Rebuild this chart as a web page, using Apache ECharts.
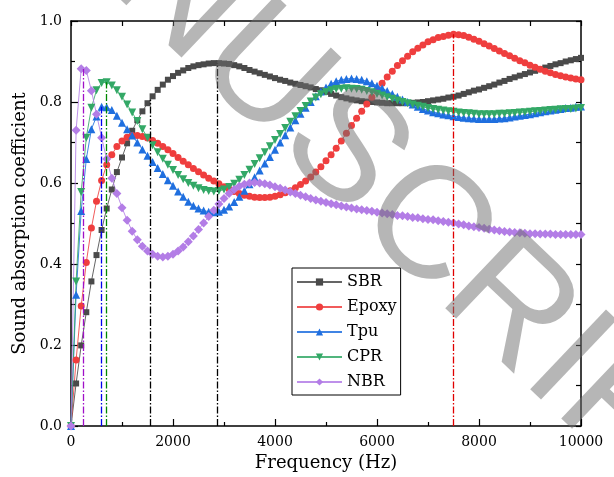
<!DOCTYPE html>
<html>
<head>
<meta charset="utf-8">
<script src="https://cdn.jsdelivr.net/npm/echarts@6/dist/echarts.min.js"></script>
<style>
  html, body { margin: 0; padding: 0; background: #fff; }
  #chart { width: 614px; height: 477px; }
</style>
</head>
<body>
<div id="chart"></div>
<script>
// Frequency grid (Hz)
const freqs = [
  0, 100, 200, 300, 400, 500, 600, 700, 800, 900, 1000,
  1100, 1200, 1300, 1400, 1500, 1600, 1700, 1800, 1900, 2000,
  2100, 2200, 2300, 2400, 2500, 2600, 2700, 2800, 2900, 3000,
  3100, 3200, 3300, 3400, 3500, 3600, 3700, 3800, 3900, 4000,
  4100, 4200, 4300, 4400, 4500, 4600, 4700, 4800, 4900, 5000,
  5100, 5200, 5300, 5400, 5500, 5600, 5700, 5800, 5900, 6000,
  6100, 6200, 6300, 6400, 6500, 6600, 6700, 6800, 6900, 7000,
  7100, 7200, 7300, 7400, 7500, 7600, 7700, 7800, 7900, 8000,
  8100, 8200, 8300, 8400, 8500, 8600, 8700, 8800, 8900, 9000,
  9100, 9200, 9300, 9400, 9500, 9600, 9700, 9800, 9900, 10000
];

// Sound absorption coefficient of each material
const sbr = [
  0, 0.105, 0.199, 0.281, 0.357, 0.422, 0.484, 0.537, 0.584, 0.627, 0.663,
  0.698, 0.729, 0.755, 0.777, 0.797, 0.814, 0.830, 0.843, 0.855, 0.864,
  0.872, 0.878, 0.884, 0.888, 0.891, 0.893, 0.895, 0.896, 0.896, 0.895,
  0.894, 0.891, 0.888, 0.884, 0.879, 0.875, 0.871, 0.867, 0.863, 0.859,
  0.855, 0.852, 0.848, 0.845, 0.842, 0.839, 0.836, 0.832, 0.829, 0.825,
  0.820, 0.816, 0.812, 0.809, 0.806, 0.804, 0.802, 0.801, 0.800, 0.799,
  0.798, 0.797, 0.797, 0.797, 0.797, 0.797, 0.798, 0.799, 0.800, 0.802,
  0.804, 0.806, 0.808, 0.811, 0.813, 0.816, 0.820, 0.824, 0.828, 0.831,
  0.835, 0.839, 0.843, 0.848, 0.852, 0.857, 0.861, 0.865, 0.869, 0.873,
  0.877, 0.881, 0.885, 0.889, 0.893, 0.896, 0.900, 0.903, 0.906, 0.909
];
const epoxy = [
  0, 0.163, 0.296, 0.404, 0.489, 0.555, 0.606, 0.645, 0.670, 0.690, 0.704,
  0.713, 0.717, 0.717, 0.715, 0.711, 0.705, 0.698, 0.690, 0.682, 0.673,
  0.663, 0.654, 0.645, 0.636, 0.628, 0.620, 0.612, 0.605, 0.598, 0.591,
  0.585, 0.579, 0.574, 0.570, 0.567, 0.565, 0.564, 0.564, 0.565, 0.567,
  0.571, 0.576, 0.581, 0.588, 0.596, 0.605, 0.615, 0.627, 0.640, 0.655,
  0.670, 0.686, 0.704, 0.723, 0.742, 0.760, 0.777, 0.795, 0.812, 0.829,
  0.846, 0.862, 0.876, 0.890, 0.902, 0.913, 0.924, 0.933, 0.941, 0.949,
  0.954, 0.959, 0.962, 0.965, 0.967, 0.966, 0.964, 0.960, 0.955, 0.950,
  0.944, 0.938, 0.932, 0.926, 0.920, 0.914, 0.908, 0.902, 0.897, 0.891,
  0.886, 0.881, 0.876, 0.872, 0.868, 0.865, 0.862, 0.859, 0.857, 0.855
];
const tpu = [
  0, 0.324, 0.531, 0.659, 0.733, 0.764, 0.788, 0.787, 0.780, 0.766, 0.749,
  0.733, 0.717, 0.700, 0.683, 0.667, 0.652, 0.637, 0.622, 0.607, 0.593,
  0.579, 0.566, 0.554, 0.544, 0.537, 0.532, 0.529, 0.528, 0.529, 0.534,
  0.542, 0.553, 0.566, 0.581, 0.597, 0.614, 0.631, 0.648, 0.664, 0.682,
  0.700, 0.718, 0.737, 0.755, 0.771, 0.786, 0.800, 0.814, 0.826, 0.836,
  0.845, 0.851, 0.855, 0.857, 0.858, 0.857, 0.855, 0.851, 0.846, 0.840,
  0.834, 0.827, 0.820, 0.813, 0.806, 0.800, 0.794, 0.788, 0.783, 0.779,
  0.775, 0.772, 0.769, 0.767, 0.765, 0.763, 0.761, 0.760, 0.759, 0.758,
  0.758, 0.758, 0.758, 0.759, 0.760, 0.762, 0.764, 0.766, 0.768, 0.770,
  0.772, 0.775, 0.777, 0.779, 0.781, 0.783, 0.785, 0.786, 0.788, 0.789
];
const cpr = [
  0, 0.357, 0.578, 0.712, 0.786, 0.829, 0.847, 0.849, 0.841, 0.829, 0.813,
  0.794, 0.774, 0.753, 0.733, 0.712, 0.693, 0.676, 0.660, 0.645, 0.632,
  0.620, 0.609, 0.600, 0.593, 0.587, 0.583, 0.580, 0.579, 0.580, 0.584,
  0.590, 0.598, 0.608, 0.620, 0.633, 0.647, 0.661, 0.676, 0.691, 0.706,
  0.721, 0.736, 0.751, 0.765, 0.778, 0.790, 0.801, 0.811, 0.819, 0.825,
  0.829, 0.832, 0.833, 0.834, 0.833, 0.832, 0.830, 0.827, 0.824, 0.820,
  0.816, 0.812, 0.808, 0.804, 0.800, 0.797, 0.794, 0.791, 0.788, 0.785,
  0.783, 0.781, 0.779, 0.777, 0.776, 0.774, 0.773, 0.772, 0.771, 0.770,
  0.770, 0.770, 0.770, 0.771, 0.771, 0.772, 0.773, 0.774, 0.775, 0.776,
  0.777, 0.778, 0.779, 0.780, 0.781, 0.782, 0.783, 0.783, 0.784, 0.785
];
const nbr = [
  0, 0.730, 0.882, 0.878, 0.828, 0.770, 0.712, 0.659, 0.612, 0.574, 0.539,
  0.508, 0.481, 0.460, 0.444, 0.432, 0.424, 0.419, 0.417, 0.419, 0.424,
  0.432, 0.442, 0.455, 0.469, 0.485, 0.501, 0.517, 0.533, 0.548, 0.562,
  0.574, 0.584, 0.592, 0.597, 0.600, 0.601, 0.600, 0.598, 0.595, 0.591,
  0.587, 0.583, 0.578, 0.574, 0.570, 0.566, 0.562, 0.558, 0.555, 0.552,
  0.549, 0.546, 0.543, 0.541, 0.538, 0.536, 0.534, 0.532, 0.530, 0.528,
  0.526, 0.524, 0.522, 0.520, 0.519, 0.517, 0.515, 0.514, 0.512, 0.510,
  0.509, 0.507, 0.505, 0.503, 0.501, 0.499, 0.497, 0.494, 0.492, 0.490,
  0.488, 0.486, 0.484, 0.482, 0.480, 0.479, 0.478, 0.477, 0.476, 0.475,
  0.475, 0.474, 0.474, 0.474, 0.473, 0.473, 0.473, 0.473, 0.473, 0.473
];

// Peak markers: frequency (Hz) and coefficient reached there
const sbrPeaks = [[1550, 0.806], [2870, 0.896]];
const epoxyPeaks = [[7500, 0.967]];
const tpuPeaks = [[600, 0.788]];
const cprPeaks = [[700, 0.849]];
const nbrPeaks = [[240, 0.882]];

const seriesNames = ['SBR', 'Epoxy', 'Tpu', 'CPR', 'NBR'];
const xTicks = [0, 2000, 4000, 6000, 8000, 10000];

const SERIF = 'DejaVu Serif';

function pairs(vals) {
  return freqs.map((f, i) => [f, vals[i]]);
}

function dropLines(peaks, color) {
  return {
    silent: true,
    symbol: ['none', 'none'],
    label: { show: false },
    animation: false,
    lineStyle: { color: color, width: 1.3, type: [7, 2, 1.5, 2] },
    data: peaks.map(p => [{ coord: [p[0], 0] }, { coord: [p[0], p[1]] }])
  };
}

function lineSeries(name, vals, symbol, size, color, rotate, peaks, peakColor) {
  return {
    name: name,
    type: 'line',
    xAxisIndex: 0,
    yAxisIndex: 0,
    data: pairs(vals),
    symbol: symbol,
    symbolSize: size,
    symbolRotate: rotate,
    showAllSymbol: true,
    animation: false,
    lineStyle: { color: color, width: 1, opacity: 0.85 },
    itemStyle: { color: color },
    markLine: dropLines(peaks, peakColor)
  };
}

const chart = echarts.init(document.getElementById('chart'));

chart.setOption({
  backgroundColor: '#fff',
  animation: false,
  grid: { left: 71, right: 33, top: 21, bottom: 48 },
  xAxis: [
    {
      type: 'value', min: xTicks[0], max: xTicks[xTicks.length - 1], interval: 2000,
      position: 'bottom',
      name: 'Frequency (Hz)', nameLocation: 'middle', nameGap: 28,
      nameTextStyle: { fontFamily: SERIF, fontSize: 18, color: '#000' },
      axisLine: { show: true, onZero: false, lineStyle: { color: '#000', width: 1.5 } },
      axisTick: { show: true, inside: true, length: 7, lineStyle: { color: '#000', width: 1.2 } },
      minorTick: { show: true, splitNumber: 2, length: 4, lineStyle: { color: '#000', width: 1.2 } },
      axisLabel: { fontFamily: SERIF, fontSize: 14, color: '#000', margin: 9,
                   formatter: v => String(v) },
      splitLine: { show: false }
    },
    {
      type: 'value', min: 0, max: 10000, interval: 1000,
      position: 'top',
      axisLine: { show: true, onZero: false, lineStyle: { color: '#000', width: 1.5 } },
      axisTick: { show: true, inside: true, length: 5, lineStyle: { color: '#000', width: 1.2 } },
      axisLabel: { show: false },
      splitLine: { show: false }
    }
  ],
  yAxis: [
    {
      type: 'value', min: 0, max: 1, interval: 0.2,
      position: 'left',
      name: 'Sound absorption coefficient', nameLocation: 'middle', nameGap: 38,
      nameTextStyle: { fontFamily: SERIF, fontSize: 18, color: '#000' },
      axisLine: { show: true, onZero: false, lineStyle: { color: '#000', width: 1.5 } },
      axisTick: { show: true, inside: true, length: 7, lineStyle: { color: '#000', width: 1.2 } },
      minorTick: { show: true, splitNumber: 2, length: 4, lineStyle: { color: '#000', width: 1.2 } },
      axisLabel: { fontFamily: SERIF, fontSize: 14, color: '#000', margin: 9,
                   formatter: v => v.toFixed(1) },
      splitLine: { show: false }
    },
    {
      type: 'value', min: 0, max: 1, interval: 0.1,
      position: 'right',
      axisLine: { show: true, onZero: false, lineStyle: { color: '#000', width: 1.5 } },
      axisTick: { show: true, inside: true, length: 5, lineStyle: { color: '#000', width: 1.2 } },
      axisLabel: { show: false },
      splitLine: { show: false }
    }
  ],
  legend: {
    data: seriesNames,
    orient: 'vertical',
    left: 292, top: 268,
    itemWidth: 45, itemHeight: 9, itemGap: 5,
    padding: [4, 4, 3, 4],
    borderColor: '#000', borderWidth: 1,
    backgroundColor: '#fff',
    textStyle: { fontFamily: SERIF, fontSize: 16, color: '#000', lineHeight: 20 }
  },
  graphic: [
    {
      type: 'text',
      x: 347, y: 154,
      rotation: -0.76,
      z: 100,
      silent: true,
      style: {
        text: 'MANUSCRIPT',
        font: '160px "Liberation Sans"',
        fill: 'rgba(110,110,110,0.5)',
        align: 'center',
        verticalAlign: 'middle'
      }
    }
  ],
  series: [
    lineSeries('SBR', sbr, 'rect', 6, '#4a4a4a', 0, sbrPeaks, '#000000'),
    lineSeries('Epoxy', epoxy, 'circle', 7, '#ef3e3e', 0, epoxyPeaks, '#e00000'),
    lineSeries('Tpu', tpu, 'triangle', 8, '#1f6fdf', 0, tpuPeaks, '#0000ee'),
    lineSeries('CPR', cpr, 'triangle', 8, '#33a866', 180, cprPeaks, '#008800'),
    lineSeries('NBR', nbr, 'diamond', 9, '#b37de6', 0, nbrPeaks, '#a010c8')
  ]
});
</script>
</body>
</html>
